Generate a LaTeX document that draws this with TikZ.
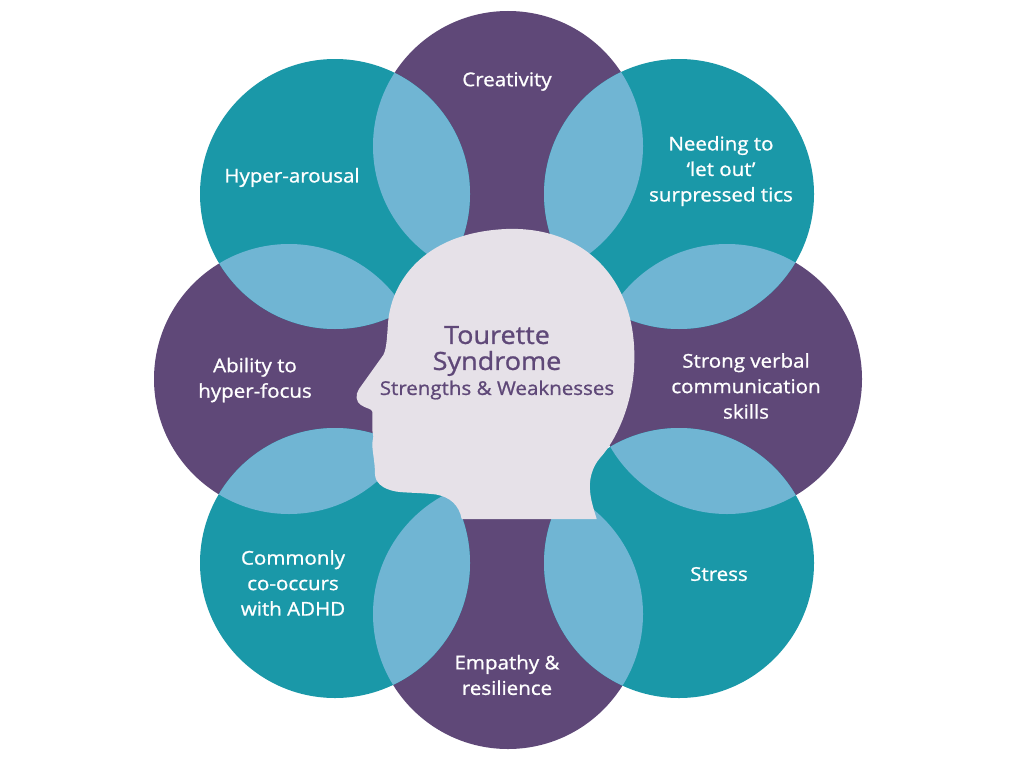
\documentclass[tikz,border=0pt]{standalone}
\usepackage{fontspec}
\setmainfont{Open Sans}[FakeBold=1.0,FakeStretch=1.08]
\definecolor{tealpetal}{HTML}{1A98A8}
\definecolor{plumpetal}{HTML}{5F4878}
\definecolor{overlap}{HTML}{70B5D3}
\definecolor{headfill}{HTML}{E6E1E8}
\tikzset{
  petaltext/.style={text=white,align=center,font=\fontsize{19}{25.5}\selectfont,inner sep=0pt},
  headtext/.style={text=plumpetal,align=center,inner sep=0pt},
}
\def\rad{135}
\begin{document}
\begin{tikzpicture}[x=1pt,y=-1pt]
\useasboundingbox (0,0) rectangle (1024,768);
\fill[white] (0,0) rectangle (1024,768);
% the eight petals
\coordinate (pT) at (508,146);
\coordinate (pTR) at (679,194);
\coordinate (pR) at (727,379);
\coordinate (pBR) at (679,563);
\coordinate (pB) at (508,614);
\coordinate (pBL) at (335,563);
\coordinate (pL) at (289,379);
\coordinate (pTL) at (335,194);
\foreach \c in {pT,pR,pB,pL} \fill[plumpetal] (\c) circle (\rad);
\foreach \c in {pTR,pBR,pBL,pTL} \fill[tealpetal] (\c) circle (\rad);
% lens where neighbouring petals overlap
\foreach \a/\b in {pT/pTR,pTR/pR,pR/pBR,pBR/pB,pB/pBL,pBL/pL,pL/pTL,pTL/pT}{
  \begin{scope}
    \clip (\a) circle (\rad);
    \fill[overlap] (\b) circle (\rad);
  \end{scope}
}
% head silhouette, clockwise from the front of the neck
\fill[headfill] (461.7,519)
  .. controls (459,505) and (450,497) .. (436,494.5)
  .. controls (420,492.5) and (405,493) .. (396,491.5)
  .. controls (382,489) and (375,482) .. (375,474)
  .. controls (375,462) and (372,450) .. (372.3,443)
  -- (373.3,436.7) -- (372.3,430) -- (372.3,411.7)
  .. controls (372.5,409) and (365,408) .. (361,405)
  .. controls (356,402) and (355,395) .. (359,389)
  -- (383.3,355)
  .. controls (387,348) and (387,335) .. (388.3,320)
  .. controls (392,285) and (420,233) .. (506,229)
  .. controls (585,226) and (636,280) .. (634.3,360)
  .. controls (634,400) and (618,438) .. (600,458)
  .. controls (592,467) and (589,480) .. (590,490)
  .. controls (590.5,500) and (594,510) .. (596.7,519)
  -- cycle;
% labels
\node[petaltext] (creativity) at (507,81.5) {Creativity};
\node[petaltext] (tics) at (721,171) {Needing to\\\symbol{96}let out’\\surpressed tics};
\node[petaltext] (verbal) at (746,386) {Strong verbal\\communication\\skills};
\node[petaltext] (stress) at (719,574) {Stress};
\node[petaltext] (empathy) at (507,675) {Empathy \&\\resilience};
\node[petaltext] (adhd) at (293,583) {Commonly\\co-occurs\\with ADHD};
\node[petaltext] (focus) at (255,380) {Ability to\\hyper-focus};
\node[petaltext] (arousal) at (292,177.5) {Hyper-arousal};
\node[headtext,font=\fontsize{25}{26}\selectfont] (title) at (497,351) {Tourette\\Syndrome};
\node[headtext,font=\fontsize{19}{22}\selectfont] (subtitle) at (497,390) {Strengths \& Weaknesses};
\end{tikzpicture}
\end{document}
